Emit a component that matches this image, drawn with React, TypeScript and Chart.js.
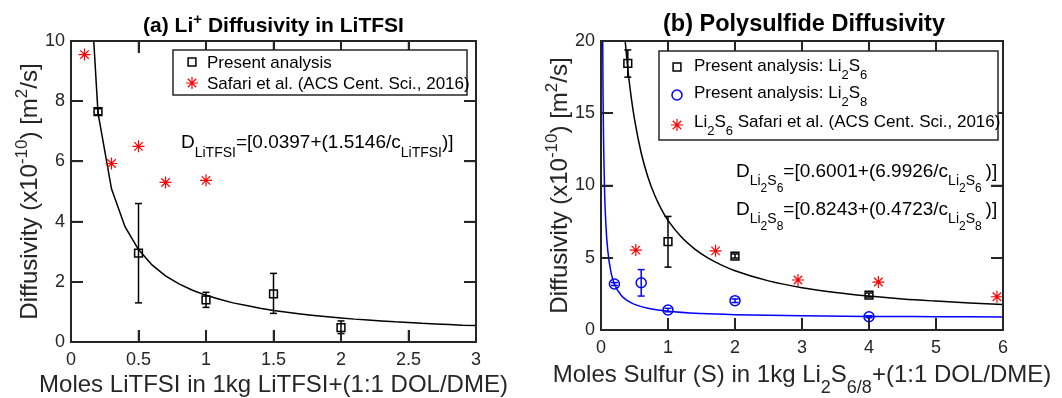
import React, { useEffect, useRef } from 'react';
import { Chart, registerables } from 'chart.js';

Chart.register(...registerables);

// ---------------- Panel (a) data ----------------
const aPresentX = [0.2, 0.5, 1.0, 1.5, 2.0];
const aPresentY = [7.65, 2.95, 1.4, 1.6, 0.48];
const aPresentLow = [7.55, 1.3, 1.15, 0.95, 0.28];
const aPresentHigh = [7.75, 4.6, 1.65, 2.28, 0.7];
const aSafariX = [0.1, 0.3, 0.5, 0.7, 1.0];
const aSafariY = [9.55, 5.93, 6.5, 5.3, 5.37];
const aFitX = [0.1, 0.2, 0.3, 0.4, 0.5, 0.6, 0.7, 0.8, 0.9, 1.0, 1.1, 1.2, 1.3, 1.4, 1.5, 1.6, 1.7, 1.8, 1.9, 2.0, 2.1, 2.2, 2.3, 2.4, 2.5, 2.6, 2.7, 2.8, 2.9, 3.0];
const aFitY = [15.19, 7.61, 5.09, 3.83, 3.07, 2.56, 2.2, 1.93, 1.72, 1.55, 1.42, 1.3, 1.21, 1.12, 1.05, 0.99, 0.93, 0.88, 0.84, 0.8, 0.76, 0.73, 0.7, 0.67, 0.65, 0.62, 0.6, 0.58, 0.56, 0.55];
const aXTicks = [0, 0.5, 1, 1.5, 2, 2.5, 3];
const aXTickLabels = ['0', '0.5', '1', '1.5', '2', '2.5', '3'];
const aYTicks = [0, 2, 4, 6, 8, 10];
const aYTickLabels = ['0', '2', '4', '6', '8', '10'];

// ---------------- Panel (b) data ----------------
const bS6X = [0.4, 1.0, 2.0, 4.0];
const bS6Y = [18.45, 6.12, 5.12, 2.42];
const bS6Low = [17.5, 4.35, 4.98, 2.28];
const bS6High = [19.38, 7.86, 5.26, 2.56];
const bS8X = [0.2, 0.6, 1.0, 2.0, 4.0];
const bS8Y = [3.18, 3.27, 1.38, 2.03, 0.92];
const bS8Low = [3.08, 2.35, 1.26, 1.9, 0.85];
const bS8High = [3.28, 4.18, 1.5, 2.15, 0.99];
const bSafariX = [0.52, 1.71, 2.94, 4.14, 5.91];
const bSafariY = [5.53, 5.48, 3.46, 3.32, 2.3];
const bFit6X = [0.35, 0.4, 0.45, 0.5, 0.6, 0.7, 0.8, 0.9, 1.0, 1.2, 1.4, 1.6, 1.8, 2.0, 2.5, 3.0, 3.5, 4.0, 4.5, 5.0, 5.5, 6.0];
const bFit6Y = [20.58, 18.08, 16.14, 14.59, 12.25, 10.59, 9.34, 8.37, 7.59, 6.43, 5.6, 4.97, 4.49, 4.1, 3.4, 2.93, 2.6, 2.35, 2.15, 2.0, 1.87, 1.77];
const bFit8X = [0.02, 0.03, 0.05, 0.075, 0.1, 0.15, 0.2, 0.3, 0.4, 0.5, 0.7, 1.0, 1.5, 2.0, 3.0, 4.0, 5.0, 6.0];
const bFit8Y = [24.44, 16.57, 10.27, 7.12, 5.55, 3.97, 3.19, 2.4, 2.01, 1.77, 1.5, 1.3, 1.14, 1.06, 0.98, 0.94, 0.92, 0.9];
const bXTicks = [0, 1, 2, 3, 4, 5, 6];
const bXTickLabels = ['0', '1', '2', '3', '4', '5', '6'];
const bYTicks = [0, 5, 10, 15, 20];
const bYTickLabels = ['0', '5', '10', '15', '20'];

const FONT = '"Liberation Sans", Arial, Helvetica, sans-serif';
const AXIS = '#262626';
const BLACK = '#000000';
const BLUE = '#0000ff';
const RED = '#ff0000';
const TICK_LEN = 12;

type Seg = { t: string; size: number; dy?: number; bold?: boolean };

function drawRich(ctx: CanvasRenderingContext2D, segs: Seg[], x: number, y: number, align: string, color: string) {
  ctx.save();
  ctx.fillStyle = color;
  ctx.textBaseline = 'alphabetic';
  ctx.textAlign = 'left';
  const widths = segs.map((s) => {
    ctx.font = `${s.bold ? 'bold ' : ''}${s.size}px ${FONT}`;
    return ctx.measureText(s.t).width;
  });
  const total = widths.reduce((a, b) => a + b, 0);
  let cx = align === 'left' ? x : align === 'center' ? x - total / 2 : x - total;
  segs.forEach((s, i) => {
    ctx.font = `${s.bold ? 'bold ' : ''}${s.size}px ${FONT}`;
    ctx.fillText(s.t, cx, y + (s.dy || 0));
    cx += widths[i];
  });
  ctx.restore();
}

function drawMarker(ctx: CanvasRenderingContext2D, kind: string, x: number, y: number, color: string) {
  ctx.save();
  ctx.strokeStyle = color;
  ctx.lineWidth = 1.5;
  ctx.setLineDash([]);
  ctx.beginPath();
  if (kind === 'rect') {
    const s = 3.9;
    ctx.rect(x - s, y - s, 2 * s, 2 * s);
  } else if (kind === 'circle') {
    ctx.arc(x, y, 5, 0, Math.PI * 2);
  } else {
    ctx.lineWidth = 1.2;
    const r = 6;
    for (let k = 0; k < 4; k++) {
      const a = (k * Math.PI) / 4;
      ctx.moveTo(x - r * Math.cos(a), y - r * Math.sin(a));
      ctx.lineTo(x + r * Math.cos(a), y + r * Math.sin(a));
    }
  }
  ctx.stroke();
  ctx.restore();
}

function seg(ctx: CanvasRenderingContext2D, x1: number, y1: number, x2: number, y2: number) {
  ctx.beginPath();
  ctx.moveTo(x1, y1);
  ctx.lineTo(x2, y2);
  ctx.stroke();
}

const pts = (xs: number[], ys: number[]) => xs.map((x, i) => ({ x, y: ys[i] }));

interface ErrSeries { x: number[]; low: number[]; high: number[]; color: string }
interface LegendItem { marker: string; color: string; segs: Seg[]; my: number; ty: number }
interface PanelCfg {
  area: { left: number; top: number; right: number; bottom: number };
  xMin: number; xMax: number; yMin: number; yMax: number;
  xTicks: number[]; xTickLabels: string[]; yTicks: number[]; yTickLabels: string[];
  datasets: any[];
  errors: ErrSeries[];
  title: Seg[]; titleX: number; titleY: number;
  xTitle: Seg[]; xTitleY: number;
  yTitle: Seg[]; yTitleX: number;
  legendBox: { l: number; t: number; r: number; b: number };
  legendItems: LegendItem[]; markerX: number; textX: number;
  eqs: { segs: Seg[]; x: number; y: number }[];
}

const yTitleSegs: Seg[] = [
  { t: 'Diffusivity (x10', size: 24 },
  { t: '-10', size: 17, dy: -10 },
  { t: ') [m', size: 24 },
  { t: '2', size: 17, dy: -10 },
  { t: '/s]', size: 24 },
];

const panelA: PanelCfg = {
  area: { left: 71, top: 41, right: 476, bottom: 342 },
  xMin: 0, xMax: 3, yMin: 0, yMax: 10,
  xTicks: aXTicks, xTickLabels: aXTickLabels, yTicks: aYTicks, yTickLabels: aYTickLabels,
  datasets: [
    { label: 'Present analysis', data: pts(aPresentX, aPresentY), pointStyle: 'rect', pointRadius: 5.5, borderColor: BLACK, backgroundColor: 'rgba(0,0,0,0)', pointBorderWidth: 1.5 },
    { label: 'Safari et al. (ACS Cent. Sci., 2016)', data: pts(aSafariX, aSafariY), pointStyle: 'star', pointRadius: 6, borderColor: RED, backgroundColor: RED, pointBorderWidth: 1.2 },
    { label: 'Fit', data: pts(aFitX, aFitY), showLine: true, pointRadius: 0, borderColor: BLACK, borderWidth: 1.5, tension: 0 },
  ],
  errors: [{ x: aPresentX, low: aPresentLow, high: aPresentHigh, color: BLACK }],
  title: [
    { t: '(a) Li', size: 21, bold: true },
    { t: '+', size: 15, dy: -8, bold: true },
    { t: ' Diffusivity in LiTFSI', size: 21, bold: true },
  ],
  titleX: 273.5, titleY: 32,
  xTitle: [{ t: 'Moles LiTFSI in 1kg LiTFSI+(1:1 DOL/DME)', size: 24 }],
  xTitleY: 392,
  yTitle: yTitleSegs, yTitleX: 37,
  legendBox: { l: 173, t: 50, r: 467, b: 95 },
  legendItems: [
    { marker: 'rect', color: BLACK, segs: [{ t: 'Present analysis', size: 17 }], my: 62, ty: 68 },
    { marker: 'star', color: RED, segs: [{ t: 'Safari et al. (ACS Cent. Sci., 2016)', size: 17 }], my: 83, ty: 89 },
  ],
  markerX: 192, textX: 207,
  eqs: [
    {
      segs: [
        { t: 'D', size: 19 },
        { t: 'LiTFSI', size: 14, dy: 9 },
        { t: '=[0.0397+(1.5146/c', size: 19 },
        { t: 'LiTFSI', size: 14, dy: 9 },
        { t: ')]', size: 19 },
      ],
      x: 181, y: 148,
    },
  ],
};

const li2s = (n: string, sub: number, subsub: number, d1: number, d2: number): Seg[] => [
  { t: 'Li', size: sub, dy: d1 },
  { t: '2', size: subsub, dy: d2 },
  { t: 'S', size: sub, dy: d1 },
  { t: n, size: subsub, dy: d2 },
];

const panelB: PanelCfg = {
  area: { left: 70, top: 41, right: 472, bottom: 330 },
  xMin: 0, xMax: 6, yMin: 0, yMax: 20,
  xTicks: bXTicks, xTickLabels: bXTickLabels, yTicks: bYTicks, yTickLabels: bYTickLabels,
  datasets: [
    { label: 'Present analysis: Li2S6', data: pts(bS6X, bS6Y), pointStyle: 'rect', pointRadius: 5.5, borderColor: BLACK, backgroundColor: 'rgba(0,0,0,0)', pointBorderWidth: 1.5 },
    { label: 'Present analysis: Li2S8', data: pts(bS8X, bS8Y), pointStyle: 'circle', pointRadius: 5, borderColor: BLUE, backgroundColor: 'rgba(0,0,0,0)', pointBorderWidth: 1.5 },
    { label: 'Li2S6 Safari et al. (ACS Cent. Sci., 2016)', data: pts(bSafariX, bSafariY), pointStyle: 'star', pointRadius: 6, borderColor: RED, backgroundColor: RED, pointBorderWidth: 1.2 },
    { label: 'Fit Li2S6', data: pts(bFit6X, bFit6Y), showLine: true, pointRadius: 0, borderColor: BLACK, borderWidth: 1.5, cubicInterpolationMode: 'monotone' },
    { label: 'Fit Li2S8', data: pts(bFit8X, bFit8Y), showLine: true, pointRadius: 0, borderColor: BLUE, borderWidth: 1.5, cubicInterpolationMode: 'monotone' },
  ],
  errors: [
    { x: bS6X, low: bS6Low, high: bS6High, color: BLACK },
    { x: bS8X, low: bS8Low, high: bS8High, color: BLUE },
  ],
  title: [{ t: '(b) Polysulfide Diffusivity', size: 23.5, bold: true }],
  titleX: 273, titleY: 31,
  xTitle: [
    { t: 'Moles Sulfur (S) in 1kg Li', size: 24 },
    { t: '2', size: 18, dy: 11 },
    { t: 'S', size: 24 },
    { t: '6/8', size: 18, dy: 11 },
    { t: '+(1:1 DOL/DME)', size: 24 },
  ],
  xTitleY: 382,
  yTitle: yTitleSegs, yTitleX: 36,
  legendBox: { l: 128, t: 51, r: 467, b: 140 },
  legendItems: [
    { marker: 'rect', color: BLACK, segs: [{ t: 'Present analysis: Li', size: 17 }, { t: '2', size: 13, dy: 8 }, { t: 'S', size: 17 }, { t: '6', size: 13, dy: 8 }], my: 67, ty: 71 },
    { marker: 'circle', color: BLUE, segs: [{ t: 'Present analysis: Li', size: 17 }, { t: '2', size: 13, dy: 8 }, { t: 'S', size: 17 }, { t: '8', size: 13, dy: 8 }], my: 95, ty: 98 },
    { marker: 'star', color: RED, segs: [{ t: 'Li', size: 17 }, { t: '2', size: 13, dy: 8 }, { t: 'S', size: 17 }, { t: '6', size: 13, dy: 8 }, { t: ' Safari et al. (ACS Cent. Sci., 2016)', size: 17 }], my: 125, ty: 127 },
  ],
  markerX: 146, textX: 163,
  eqs: [
    {
      segs: [
        { t: 'D', size: 19 },
        ...li2s('6', 14, 12, 8, 15),
        { t: '=[0.6001+(6.9926/c', size: 19 },
        ...li2s('6', 14, 12, 8, 15),
        { t: ' ', size: 14 },
        { t: ')]', size: 19 },
      ],
      x: 205, y: 177,
    },
    {
      segs: [
        { t: 'D', size: 19 },
        ...li2s('8', 14, 12, 8, 15),
        { t: '=[0.8243+(0.4723/c', size: 19 },
        ...li2s('8', 14, 12, 8, 15),
        { t: ' ', size: 14 },
        { t: ')]', size: 19 },
      ],
      x: 205, y: 215,
    },
  ],
};

// inward tick marks drawn by Chart.js itself (negative tick length)
const tickGrid = { display: true, drawOnChartArea: false, drawTicks: true, tickLength: -TICK_LEN, color: AXIS, lineWidth: 2 };

function makeChart(canvas: HTMLCanvasElement, cfg: PanelCfg) {
  const W = canvas.width;
  const H = canvas.height;
  const setX = (s: any) => { s.ticks = cfg.xTicks.map((v) => ({ value: v })); };
  const setY = (s: any) => { s.ticks = cfg.yTicks.map((v) => ({ value: v })); };
  const decor = {
    id: 'decor',
    afterDatasetsDraw(chart: any) {
      const ctx: CanvasRenderingContext2D = chart.ctx;
      const xs = chart.scales.x;
      const ys = chart.scales.y;
      ctx.save();
      ctx.setLineDash([]);
      cfg.errors.forEach((e) => {
        ctx.strokeStyle = e.color;
        ctx.lineWidth = 1.5;
        e.x.forEach((xv, i) => {
          const px = xs.getPixelForValue(xv);
          const pl = ys.getPixelForValue(e.low[i]);
          const ph = ys.getPixelForValue(e.high[i]);
          seg(ctx, px, pl, px, ph);
          seg(ctx, px - 3.5, pl, px + 3.5, pl);
          seg(ctx, px - 3.5, ph, px + 3.5, ph);
        });
      });
      ctx.restore();
    },
    afterDraw(chart: any) {
      const ctx: CanvasRenderingContext2D = chart.ctx;
      const xs = chart.scales.x;
      const ys = chart.scales.y;
      const a = chart.chartArea;
      ctx.save();
      ctx.setLineDash([]);
      ctx.strokeStyle = AXIS;
      ctx.lineWidth = 1.5;
      for (let i = 0; i < cfg.xTicks.length; i++) {
        const p = xs.getPixelForValue(cfg.xTicks[i]);
        seg(ctx, p, a.bottom, p, a.bottom - TICK_LEN);
        seg(ctx, p, a.top, p, a.top + TICK_LEN);
      }
      for (let i = 0; i < cfg.yTicks.length; i++) {
        const p = ys.getPixelForValue(cfg.yTicks[i]);
        seg(ctx, a.left, p, a.left + TICK_LEN, p);
        seg(ctx, a.right, p, a.right - TICK_LEN, p);
      }
      ctx.lineWidth = 2;
      ctx.strokeRect(a.left, a.top, a.right - a.left, a.bottom - a.top);
      const lb = cfg.legendBox;
      ctx.fillStyle = '#ffffff';
      ctx.fillRect(lb.l, lb.t, lb.r - lb.l, lb.b - lb.t);
      ctx.lineWidth = 1.5;
      ctx.strokeRect(lb.l, lb.t, lb.r - lb.l, lb.b - lb.t);
      ctx.restore();
      cfg.legendItems.forEach((it) => {
        drawMarker(ctx, it.marker, cfg.markerX, it.my, it.color);
        drawRich(ctx, it.segs, cfg.textX, it.ty, 'left', BLACK);
      });
      cfg.eqs.forEach((eq) => drawRich(ctx, eq.segs, eq.x, eq.y, 'left', BLACK));
      drawRich(ctx, cfg.title, cfg.titleX, cfg.titleY, 'center', BLACK);
      const cx = (a.left + a.right) / 2;
      drawRich(ctx, cfg.xTitle, cx, cfg.xTitleY, 'center', AXIS);
      ctx.save();
      ctx.translate(cfg.yTitleX, (a.top + a.bottom) / 2);
      ctx.rotate(-Math.PI / 2);
      drawRich(ctx, cfg.yTitle, 0, 0, 'center', AXIS);
      ctx.restore();
    },
  };

  return new Chart(canvas, {
    type: 'scatter',
    data: { datasets: cfg.datasets },
    options: {
      responsive: false,
      animation: false,
      devicePixelRatio: 1,
      layout: { padding: { left: 0, top: cfg.area.top, right: W - cfg.area.right, bottom: 0 } },
      plugins: { legend: { display: false }, tooltip: { enabled: false }, title: { display: false } },
      scales: {
        x: {
          type: 'linear',
          position: 'bottom',
          min: cfg.xMin,
          max: cfg.xMax,
          afterBuildTicks: setX,
          afterFit: (s: any) => { s.height = H - cfg.area.bottom; },
          grid: tickGrid,
          border: { display: false },
          ticks: {
            autoSkip: false,
            maxRotation: 0,
            padding: 7 + TICK_LEN,
            color: AXIS,
            font: { family: FONT, size: 18 },
            callback: (_v: any, i: number) => cfg.xTickLabels[i],
          },
        },
        x2: {
          type: 'linear',
          axis: 'x',
          position: 'top',
          min: cfg.xMin,
          max: cfg.xMax,
          afterBuildTicks: setX,
          afterFit: (s: any) => { s.height = 0; },
          grid: tickGrid,
          border: { display: false },
          ticks: { display: false },
        },
        y: {
          type: 'linear',
          position: 'left',
          min: cfg.yMin,
          max: cfg.yMax,
          afterBuildTicks: setY,
          afterFit: (s: any) => { s.width = cfg.area.left; },
          grid: tickGrid,
          border: { display: false },
          ticks: {
            autoSkip: false,
            padding: 6 + TICK_LEN,
            color: AXIS,
            font: { family: FONT, size: 18 },
            callback: (_v: any, i: number) => cfg.yTickLabels[i],
          },
        },
        y2: {
          type: 'linear',
          axis: 'y',
          position: 'right',
          min: cfg.yMin,
          max: cfg.yMax,
          afterBuildTicks: setY,
          afterFit: (s: any) => { s.width = 0; },
          grid: tickGrid,
          border: { display: false },
          ticks: { display: false },
        },
      },
    } as any,
    plugins: [decor],
  });
}

function Panel({ cfg, left }: { cfg: PanelCfg; left: number }) {
  const ref = useRef<HTMLCanvasElement>(null);
  useEffect(() => {
    if (!ref.current) return;
    const chart = makeChart(ref.current, cfg);
    return () => chart.destroy();
  }, [cfg]);
  return (
    <canvas
      ref={ref}
      width={531}
      height={398}
      style={{ position: 'absolute', left, top: 0, width: 531, height: 398 }}
    />
  );
}

export default function App() {
  return (
    <div style={{ position: 'fixed', left: 0, top: 0, width: 1062, height: 398, background: '#ffffff', overflow: 'hidden' }}>
      <Panel cfg={panelA} left={0} />
      <Panel cfg={panelB} left={531} />
    </div>
  );
}
